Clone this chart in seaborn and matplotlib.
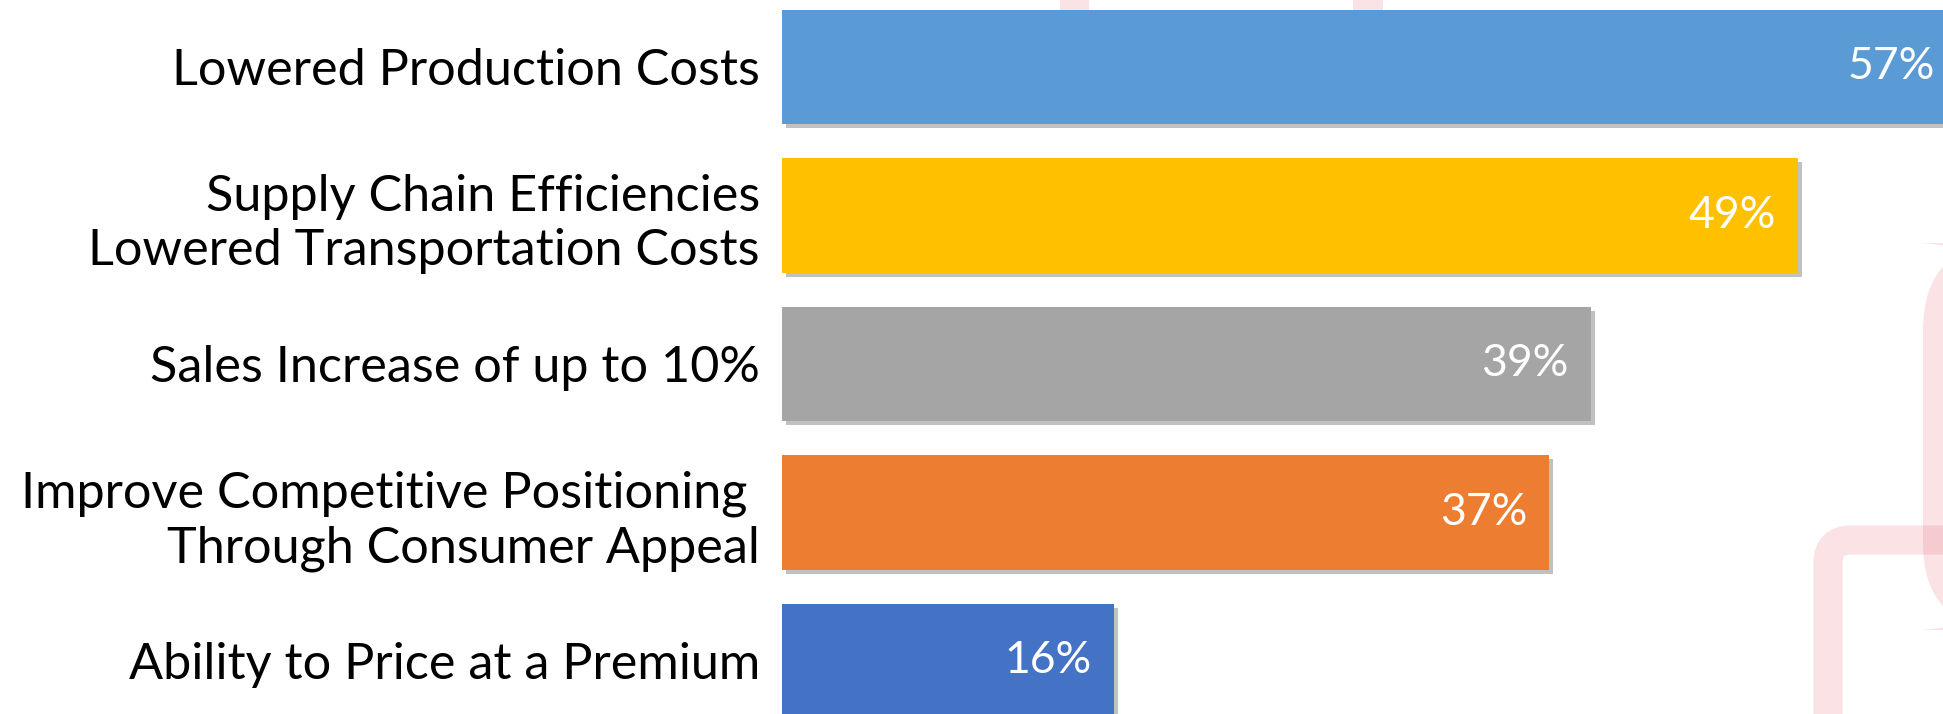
import pandas as pd
import seaborn as sns
import matplotlib.pyplot as plt
import matplotlib.patheffects as pe
from matplotlib.patches import Rectangle, FancyBboxPatch

categories = [
    "Lowered Production Costs",
    "Supply Chain Efficiencies\nLowered Transportation Costs",
    "Sales Increase of up to 10%",
    "Improve Competitive Positioning \nThrough Consumer Appeal",
    "Ability to Price at a Premium",
]
values = [57, 49, 39, 37, 16]
bar_colors = ["#5B9BD5", "#FFC000", "#A5A5A5", "#ED7D31", "#4472C4"]

df = pd.DataFrame({"reason": categories, "share": values})

sns.set_style("white")
plt.rcParams["font.family"] = ["Lato", "DejaVu Sans"]

W, H = 1943, 714
fig = plt.figure(figsize=(W / 100, H / 100), dpi=100)
fig.patch.set_facecolor("white")

# faint pink background decoration (figure pixel coords -> fraction)
pink = "#E8707E"
def px(x, y, w, h):
    return (x / W, 1 - (y + h) / H, w / W, h / H)

for x0, x1 in [(1060, 1089), (1353, 1383)]:
    b = px(x0, 0, x1 - x0, 30)
    fig.patches.append(Rectangle(b[:2], b[2], b[3], transform=fig.transFigure,
                                 facecolor=pink, alpha=0.2, edgecolor="none", zorder=-5))

# tall rounded bar on the right edge
b = px(1923, 243, 80, 387)
fig.patches.append(FancyBboxPatch(b[:2], b[2], b[3], transform=fig.transFigure,
                                  boxstyle="round,pad=0,rounding_size=0.045",
                                  mutation_aspect=W / H,
                                  facecolor=pink, alpha=0.2, edgecolor="none", zorder=-5))
# rounded outline frame in the bottom right
b = px(1828, 540, 200, 250)
fig.patches.append(FancyBboxPatch(b[:2], b[2], b[3], transform=fig.transFigure,
                                  boxstyle="round,pad=0,rounding_size=0.012",
                                  mutation_aspect=W / H,
                                  facecolor="none", alpha=0.2, edgecolor=pink,
                                  linewidth=21, zorder=-5))

ax = fig.add_axes([782 / W, 0, 1 - 782 / W, 1])
ax.set_facecolor("none")
ax.set_zorder(1)

sns.barplot(data=df, x="share", y="reason", hue="reason", palette=bar_colors,
            legend=False, width=0.77, saturation=1, linewidth=0, ax=ax)

for bar in ax.patches:
    bar.set_path_effects([pe.SimplePatchShadow(offset=(3, -3), shadow_rgbFace="#777777",
                                               alpha=0.45), pe.Normal()])

ax.set_xlim(0, 56)
ax.set_ylim(4.357, -0.451)
ax.set_xlabel("")
ax.set_ylabel("")
ax.set_xticks([])
ax.tick_params(axis="y", length=0, pad=16, labelsize=36.3, labelcolor="black")
for lab in ax.get_yticklabels():
    lab.set_linespacing(1.22)
sns.despine(ax=ax, left=True, bottom=True)

for i, v in enumerate(values):
    ax.text(min(v - 1.05, 55.6), i, f"{v}%", color="white", fontsize=32,
            ha="right", va="center", clip_on=False)

fig.savefig("out.png", dpi=100)
